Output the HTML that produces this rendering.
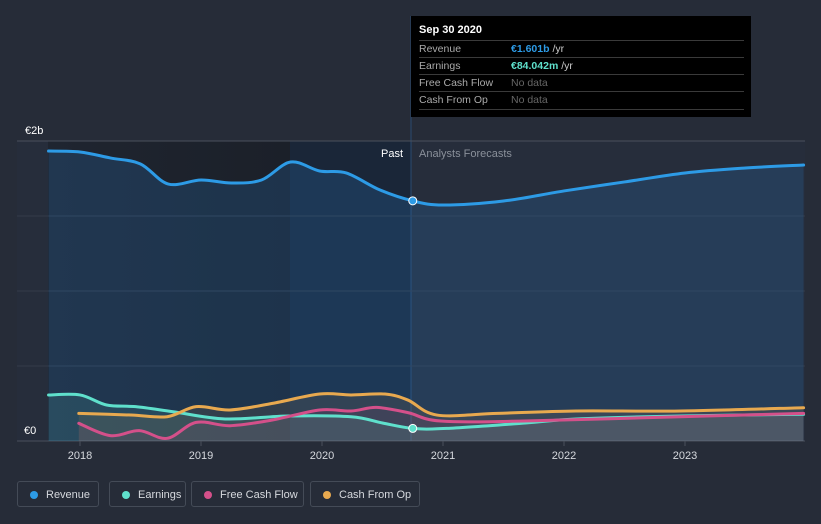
<!DOCTYPE html>
<html><head><meta charset="utf-8">
<style>
html,body{margin:0;padding:0;background:#262c38;width:821px;height:524px;overflow:hidden;font-family:"Liberation Sans",sans-serif}
svg{position:absolute;left:0;top:0}
.tt{position:absolute;left:411px;top:16px;width:340px;height:101px;background:#000}
.tt .h{position:absolute;left:8px;top:8px;color:#fff;font-size:11px;font-weight:bold}
.tt .r{position:absolute;left:8px;width:325px;height:17px;border-top:1px solid #3a3a3a;font-size:10.5px;color:#aaa;line-height:17px}
.tt .r span{position:absolute;left:92px}
.leg{position:absolute;top:481px;height:26px;border:1px solid #444b57;border-radius:3px;color:#d6d9de;font-size:11px;line-height:26px;box-sizing:border-box;padding-left:28px}
.leg i{position:absolute;left:12px;top:9px;width:8px;height:8px;border-radius:50%}
</style></head><body>
<svg width="821" height="524" id="chart">
<defs>
<linearGradient id="past" x1="0" x2="1" y1="0" y2="0"><stop offset="0" stop-color="#1f2530"/><stop offset="1" stop-color="#1b2029"/></linearGradient>
</defs>
<rect x="17" y="141" width="788" height="300" fill="#262d3b"/>
<rect x="48" y="141" width="242" height="300" fill="url(#past)"/>
<rect x="290" y="141" width="121" height="300" fill="#1a2638"/>
<line x1="411" y1="16" x2="411" y2="441" stroke="#2a4a70" stroke-width="1"/>
<g id="grid"></g>
<g id="areas"></g>
<g id="lines"></g>
<text x="25" y="134" fill="#fff" font-size="11">€2b</text>
<text x="24" y="434" fill="#fff" font-size="11">€0</text>
<text x="403" y="157" fill="#fff" font-size="11" text-anchor="end">Past</text>
<text x="419" y="157" fill="#8a909a" font-size="11">Analysts Forecasts</text>
<g id="xt"></g>
</svg>
<div class="tt">
<div class="h">Sep 30 2020</div>
<div class="r" style="top:24px">Revenue<span style="color:#2d9be6;font-weight:bold">€1.601b <b style="color:#ccc;font-weight:normal">/yr</b></span></div>
<div class="r" style="top:41px">Earnings<span style="color:#5fe0cc;font-weight:bold">€84.042m <b style="color:#ccc;font-weight:normal">/yr</b></span></div>
<div class="r" style="top:58px">Free Cash Flow<span style="color:#666">No data</span></div>
<div class="r" style="top:75px;border-bottom:1px solid #3a3a3a">Cash From Op<span style="color:#666">No data</span></div>
</div>
<div class="leg" style="left:17px;width:82px"><i style="background:#2d9be6"></i>Revenue</div>
<div class="leg" style="left:109px;width:77px"><i style="background:#5fe0cc"></i>Earnings</div>
<div class="leg" style="left:191px;width:113px"><i style="background:#d4508a"></i>Free Cash Flow</div>
<div class="leg" style="left:310px;width:110px"><i style="background:#e8a94f"></i>Cash From Op</div>
<script>
const years=[2018,2019,2020,2021,2022,2023];
const revT=[2017.74,2018.0,2018.25,2018.5,2018.73,2019.0,2019.25,2019.5,2019.74,2019.98,2020.2,2020.48,2020.75,2021.0,2021.5,2022.0,2022.5,2023.0,2023.5,2023.98];
const revV=[1.933,1.927,1.887,1.847,1.713,1.74,1.72,1.74,1.86,1.8,1.787,1.673,1.601,1.573,1.6,1.667,1.727,1.787,1.82,1.84];
const earnT=[2017.74,2018.0,2018.22,2018.46,2018.77,2019.2,2019.72,2020.24,2020.5,2020.75,2021.03,2021.68,2022.1,2022.96,2023.98];
const earnV=[0.307,0.307,0.24,0.229,0.195,0.147,0.167,0.162,0.12,0.084,0.084,0.12,0.147,0.167,0.178];
const cfoT=[2017.99,2018.42,2018.72,2018.96,2019.24,2019.59,2019.98,2020.24,2020.52,2020.71,2020.95,2021.45,2022.1,2022.96,2023.98];
const cfoV=[0.184,0.173,0.162,0.229,0.207,0.251,0.313,0.307,0.313,0.273,0.173,0.184,0.2,0.2,0.222];
const fcfT=[2017.99,2018.25,2018.49,2018.72,2018.96,2019.24,2019.59,2019.98,2020.24,2020.45,2020.71,2020.98,2021.67,2022.96,2023.98];
const fcfV=[0.118,0.036,0.069,0.018,0.124,0.102,0.14,0.207,0.2,0.224,0.189,0.133,0.133,0.162,0.184];
const X=t=>80+(t-2018)*121, Y=v=>441-v*150;
const NS='http://www.w3.org/2000/svg';
function mk(tag,a,parent){const e=document.createElementNS(NS,tag);for(const k in a)e.setAttribute(k,a[k]);document.getElementById(parent).appendChild(e);return e;}
function path(T,V){const p=T.map((t,i)=>[X(t),Y(V[i])]);let d='M'+p[0][0]+','+p[0][1];
for(let i=0;i<p.length-1;i++){const p0=p[i-1]||p[i],p1=p[i],p2=p[i+1],p3=p[i+2]||p2;
d+=` C${p1[0]+(p2[0]-p0[0])/6},${p1[1]+(p2[1]-p0[1])/6} ${p2[0]-(p3[0]-p1[0])/6},${p2[1]-(p3[1]-p1[1])/6} ${p2[0]},${p2[1]}`;}return d;}
[0.5,1,1.5,2].forEach(v=>{const g=mk('line',{x1:17,x2:805,y1:Y(v),y2:Y(v),stroke:v==2?'#4a505c':'#343b48','stroke-width':1},'grid');

});
const ax=mk('line',{x1:17,x2:805,y1:441,y2:441,stroke:'#4a505c'},'grid');


years.forEach(y=>{const t=mk('line',{x1:X(y),x2:X(y),y1:441,y2:446,stroke:'#4a505c'},'xt');


const l=mk('text',{x:X(y),y:459,fill:'#d6d9de','font-size':11,'text-anchor':'middle'},'xt');l.textContent=y;

});
const S=[[revT,revV,'#2d9be6','rgba(40,110,175,0.26)','revenue'],[earnT,earnV,'#5fe0cc','rgba(95,224,204,0.12)','earnings'],[cfoT,cfoV,'#e8a94f','rgba(232,169,79,0.1)','cash-from-op'],[fcfT,fcfV,'#d4508a','rgba(212,80,138,0.08)','free-cash-flow']];
S.forEach(s=>{const d=path(s[0],s[1]);const x0=X(s[0][0]),x1=X(s[0][s[0].length-1]);
const a=mk('path',{d:d+` L${x1},441 L${x0},441 Z`,fill:s[3]},'areas');


const l=mk('path',{d:d,fill:'none',stroke:s[2],'stroke-width':3,'stroke-linecap':'round'},'lines');

});
const c1=mk('circle',{cx:X(2020.75),cy:Y(1.601),r:4,fill:'#2d9be6',stroke:'#fff','stroke-width':1},'lines');


const c2=mk('circle',{cx:X(2020.75),cy:Y(0.084),r:4,fill:'#5fe0cc',stroke:'#fff','stroke-width':1},'lines');


</script>
</body></html>
